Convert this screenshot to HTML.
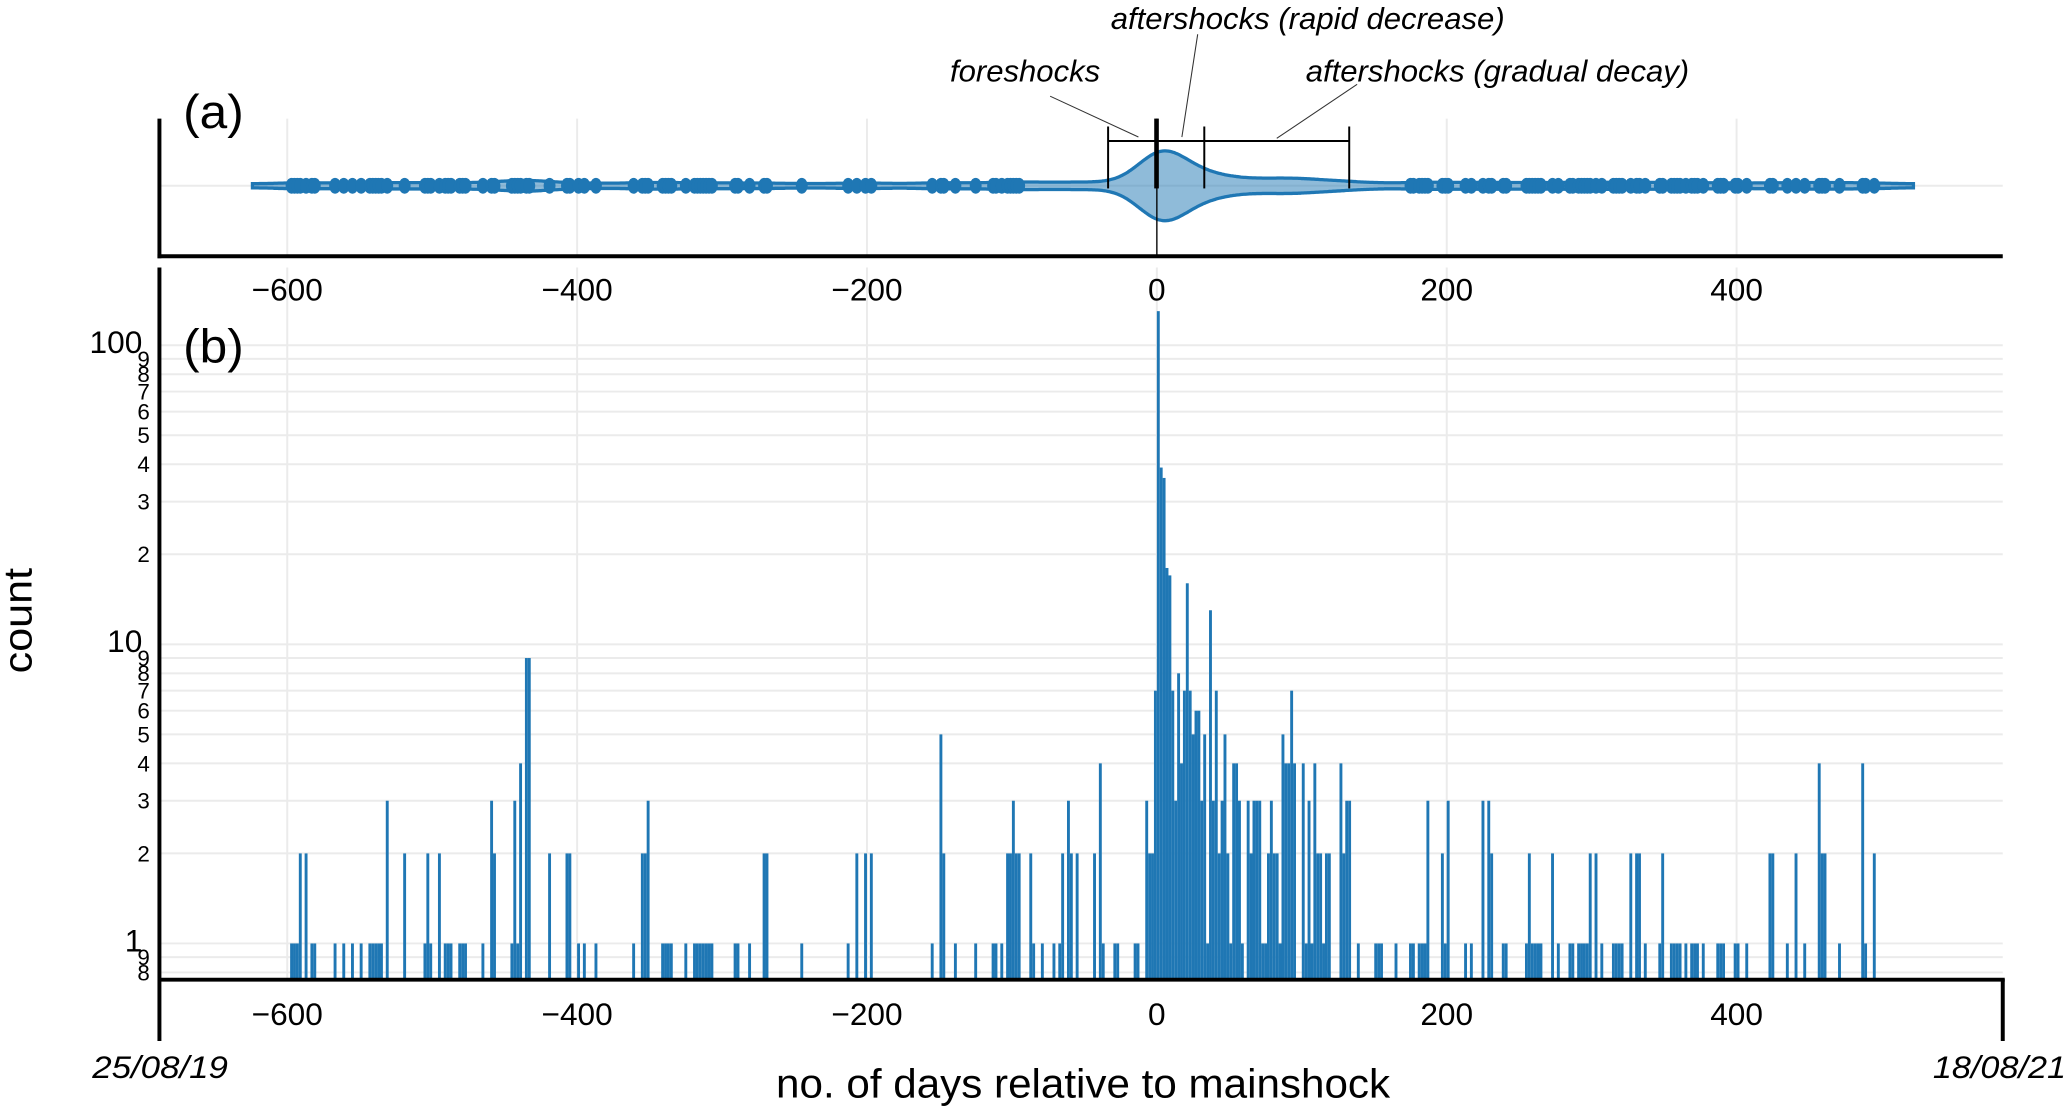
<!DOCTYPE html>
<html><head><meta charset="utf-8"><style>
html,body{margin:0;padding:0;background:#fff;}
svg{display:block;font-family:"Liberation Sans",sans-serif;}
</style></head><body>
<svg id="chart" width="2066" height="1110" viewBox="0 0 1568 842.4" preserveAspectRatio="none" xmlns="http://www.w3.org/2000/svg">
<g id="grid"></g>
<g id="violin"></g>
<g id="bars"></g>
<g id="axes"></g>
<g id="annot">
  <line x1="841" y1="107" x2="1024" y2="107" stroke="#000" stroke-width="1.5"/>
  <line x1="841" y1="96" x2="841" y2="143" stroke="#000" stroke-width="1.5"/>
  <line x1="914" y1="96" x2="914" y2="143" stroke="#000" stroke-width="1.5"/>
  <line x1="1024" y1="96" x2="1024" y2="143" stroke="#000" stroke-width="1.5"/>
  <line x1="878" y1="90" x2="878" y2="194" stroke="#000" stroke-width="1"/>
  <rect x="876" y="90" width="3.5" height="53" fill="#000"/>
  <line x1="797" y1="73" x2="864" y2="104" stroke="#333" stroke-width="0.8"/>
  <line x1="909" y1="26" x2="897" y2="104" stroke="#333" stroke-width="0.8"/>
  <line x1="1030" y1="64" x2="969" y2="105" stroke="#333" stroke-width="0.8"/>
  <text x="721" y="62" font-size="23" font-style="italic" textLength="114" lengthAdjust="spacingAndGlyphs">foreshocks</text>
  <text x="843" y="22" font-size="23" font-style="italic" textLength="299" lengthAdjust="spacingAndGlyphs">aftershocks (rapid decrease)</text>
  <text x="991" y="62" font-size="23" font-style="italic" textLength="291" lengthAdjust="spacingAndGlyphs">aftershocks (gradual decay)</text>
  <text x="139" y="97" font-size="36" textLength="46" lengthAdjust="spacingAndGlyphs">(a)</text>
  <text x="139" y="275" font-size="36" textLength="46" lengthAdjust="spacingAndGlyphs">(b)</text>
  <text transform="translate(24,471) rotate(-90)" text-anchor="middle" font-size="30" textLength="80" lengthAdjust="spacingAndGlyphs">count</text>
  <text x="822" y="833" text-anchor="middle" font-size="31" textLength="466" lengthAdjust="spacingAndGlyphs">no. of days relative to mainshock</text>
  <text x="70" y="818" font-size="24" font-style="italic" textLength="103" lengthAdjust="spacingAndGlyphs">25/08/19</text>
  <text x="1467" y="818" font-size="24" font-style="italic" textLength="101" lengthAdjust="spacingAndGlyphs">18/08/21</text>
</g>
<script>
const binDays = [-598,-596,-594,-592,-588,-584,-582,-568,-562,-556,-550,-544,-542,-540,-538,-536,-532,-520,-506,-504,-502,-496,-492,-490,-488,-482,-480,-478,-466,-460,-458,-446,-444,-442,-440,-436,-434,-420,-408,-406,-400,-396,-388,-362,-356,-354,-352,-342,-340,-338,-336,-326,-320,-318,-316,-314,-312,-310,-308,-292,-290,-282,-272,-270,-246,-214,-208,-202,-198,-156,-150,-148,-140,-126,-114,-112,-108,-104,-102,-100,-98,-96,-88,-86,-80,-72,-68,-66,-62,-60,-56,-44,-40,-38,-30,-28,-16,-14,
-8,-6,-4,-2,0,2,4,6,8,10,12,14,16,18,20,22,24,26,28,30,32,34,36,38,40,42,44,46,48,50,52,54,56,58,62,64,66,68,70,72,74,76,78,80,82,84,86,88,90,92,94,100,102,104,106,108,110,
112,114,116,118,126,128,130,132,138,150,152,154,164,174,176,180,182,184,186,196,198,200,212,216,224,228,230,238,240,254,256,258,260,262,264,272,276,284,286,290,292,294,296,298,302,306,314,316,318,320,326,330,332,336,346,348,354,356,358,360,364,368,370,372,376,386,388,390,398,400,406,422,424,434,440,446,456,458,460,470,486,488,494];
const binCounts = [1,1,1,2,2,1,1,1,1,1,1,1,1,1,1,1,3,2,1,2,1,2,1,1,1,1,1,1,1,3,2,1,3,1,4,9,9,2,2,2,1,1,1,1,2,2,3,1,1,1,1,1,1,1,1,1,1,1,1,1,1,1,2,2,1,1,2,2,2,1,5,2,1,1,1,1,1,2,2,3,2,2,2,1,1,1,1,2,3,2,2,2,4,1,1,1,1,1,
3,2,2,7,130,39,36,18,17,7,3,8,4,7,16,7,5,6,6,3,5,1,13,3,7,2,3,5,2,1,4,4,3,1,3,2,3,3,3,1,1,2,3,2,2,1,5,4,4,7,4,4,1,3,1,4,2,
2,1,2,2,4,2,3,3,1,1,1,1,1,1,1,1,1,1,3,2,1,3,1,1,3,3,2,1,1,1,2,1,1,1,1,2,1,1,1,1,1,1,1,2,2,1,1,1,1,1,2,2,2,1,1,2,1,1,1,1,1,1,1,1,1,1,1,1,1,1,1,2,2,1,2,1,4,2,2,1,4,1,2];
const xTicks = [-600,-400,-200,0,200,400];
const yMajor = [1,10,100];
const yMinor = [0.8,0.9,2,3,4,5,6,7,8,9,20,30,40,50,60,70,80,90];
const binWidth = 2;

const NS="http://www.w3.org/2000/svg";
const X0=121, X1=1520, YB=743;
const xs = d => 878 + d*1.1;
const ys = c => 716 - 227*Math.log10(c);
function mk(tag, attrs, parent){const e=document.createElementNS(NS,tag);for(const k in attrs)e.setAttribute(k,attrs[k]);parent.appendChild(e);return e;}
const grid=document.getElementById('grid'), bars=document.getElementById('bars'), axes=document.getElementById('axes'), vio=document.getElementById('violin');

xTicks.forEach(t=>{
  const a=mk('line',{x1:xs(t),x2:xs(t),y1:90,y2:194,stroke:'#ebebeb','stroke-width':1.5},grid);
  
  
  const b=mk('line',{x1:xs(t),x2:xs(t),y1:203,y2:743,stroke:'#ebebeb','stroke-width':1.5},grid);
  
  
});
mk('line',{x1:X0,x2:X1,y1:141,y2:141,stroke:'#ebebeb','stroke-width':1.5},grid);
yMajor.concat(yMinor).forEach(v=>{
  const g=mk('line',{x1:X0,x2:X1,y1:ys(v),y2:ys(v),stroke:'#ebebeb','stroke-width':1.5},grid);
  
  
});

binDays.forEach((d,i)=>{
  const c=binCounts[i]; if(!c) return;
  const y=ys(c);
  const r=mk('rect',{x:xs(d),y:y,width:binWidth*1.1,height:YB-y,fill:'#1f77b4'},bars);
  
  
});

const bw=16, vmin=-624, vmax=522;
let pts=[];
for(let d=vmin; d<=vmax; d+=1){
  let s=0;
  binDays.forEach((b,i)=>{const z=(d-(b+1))/bw; if(Math.abs(z)<5) s+=binCounts[i]*Math.exp(-0.5*z*z);});
  pts.push([d,s]);
}
const mx=Math.max(...pts.map(p=>p[1]));
const hw=pts.map(p=>[xs(p[0]), 1.5+25*p[1]/mx]);
let dstr='M'+hw.map(p=>p[0].toFixed(1)+','+(141-p[1]).toFixed(1)).join('L')+'L'+hw.slice().reverse().map(p=>p[0].toFixed(1)+','+(141+p[1]).toFixed(1)).join('L')+'Z';
const vp=mk('path',{d:dstr,fill:'rgba(31,119,180,0.5)',stroke:'#1f77b4','stroke-width':2.5},vio);


binDays.forEach((d,i)=>{
  if(!binCounts[i]) return;
  if(d>-90 && d<170) return;
  const c=mk('ellipse',{cx:xs(d+1),cy:141,rx:4.5,ry:6,fill:'#1f77b4'},vio);
  
  
});

mk('line',{x1:X0,x2:X0,y1:90,y2:196,stroke:'#000','stroke-width':3},axes);
mk('line',{x1:X0-1.5,x2:X1,y1:194.5,y2:194.5,stroke:'#000','stroke-width':3},axes);
mk('line',{x1:X0,x2:X0,y1:203,y2:790,stroke:'#000','stroke-width':3},axes);
mk('line',{x1:X0,x2:X1+1.5,y1:743.5,y2:743.5,stroke:'#000','stroke-width':3},axes);
mk('line',{x1:X1,x2:X1,y1:743,y2:790,stroke:'#000','stroke-width':3},axes);
xTicks.forEach(t=>{
  const lab=(t<0?'\u2212':'')+Math.abs(t);
  [228,778].forEach(yy=>{
    const tx=mk('text',{x:xs(t),y:yy,'text-anchor':'middle','font-size':24},axes);
    tx.textContent=lab;
    
    
  });
});
yMajor.forEach(v=>{
  const tx=mk('text',{x:108,y:ys(v)+6,'text-anchor':'end','font-size':24},axes);
  tx.textContent=String(v);
  
  
});
yMinor.forEach(v=>{
  const digit=String(v).replace('0.','').charAt(0);
  const tx=mk('text',{x:109,y:ys(v)+6,'text-anchor':'middle','font-size':17},axes);
  tx.textContent=digit;
  
  
});
</script>
</svg>
</body></html>
